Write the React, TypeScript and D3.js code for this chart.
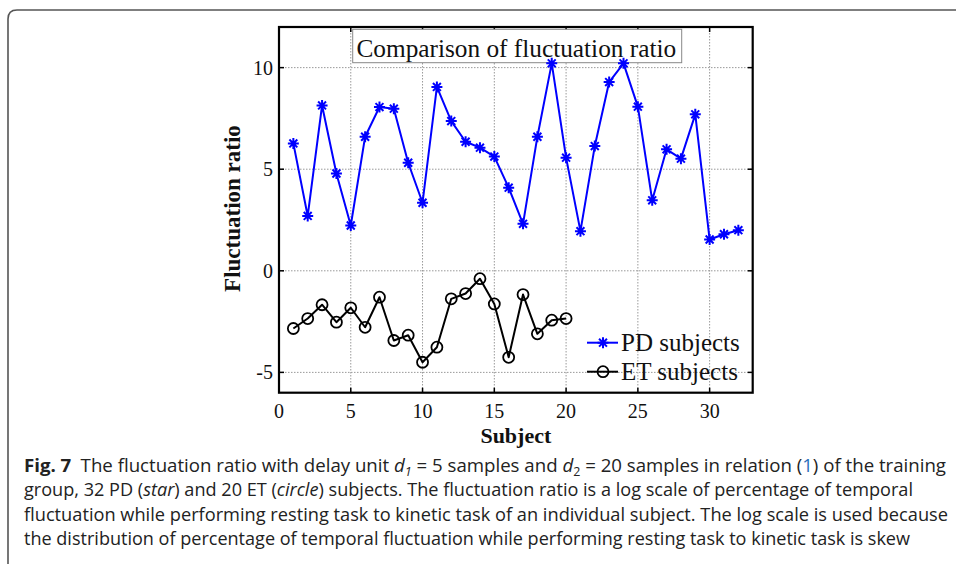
import React from "react";
import * as d3 from "d3";

const subjectsPD = d3.range(1, 33);
const valuesPD = [6.27, 2.7, 8.14, 4.79, 2.23, 6.6, 8.06, 7.98, 5.32, 3.35, 9.05, 7.37, 6.35, 6.06, 5.62, 4.09, 2.31, 6.6, 10.21, 5.57, 1.95, 6.14, 9.29, 10.21, 8.08, 3.47, 5.98, 5.52, 7.7, 1.54, 1.8, 2.0];
const subjectsET = d3.range(1, 21);
const valuesET = [-2.84, -2.35, -1.67, -2.53, -1.82, -2.78, -1.3, -3.43, -3.17, -4.5, -3.76, -1.38, -1.12, -0.39, -1.63, -4.26, -1.17, -3.1, -2.43, -2.35];
const xTicks = [0, 5, 10, 15, 20, 25, 30];
const yTicks = [-5, 0, 5, 10];
const seriesNames = ["PD subjects", "ET subjects"];
const chartTitle = "Comparison of fluctuation ratio";
const xLabel = "Subject";
const yLabel = "Fluctuation ratio";

const SERIF = "'Liberation Serif', 'Times New Roman', serif";
const SANS = "'Open Sans', 'Noto Sans', sans-serif";

const L = 279, R = 752.7, T = 27, B = 392.7;

function asterisk(s: number) {
  const k = s * 0.72;
  return `M${-s},0L${s},0M0,${-s}L0,${s}M${-k},${-k}L${k},${k}M${-k},${k}L${k},${-k}`;
}

export default function App() {
  const x = d3.scaleLinear().domain([0, 33]).range([L, R]);
  const y = d3.scaleLinear().domain([-6, 12]).range([B, T]);
  const pd = subjectsPD.map((s, i) => [s, valuesPD[i]] as [number, number]);
  const et = subjectsET.map((s, i) => [s, valuesET[i]] as [number, number]);
  const line = d3.line<[number, number]>().x((d) => x(d[0])).y((d) => y(d[1]));
  const tickLen = 5;
  const blue = "#0000ff";

  return (
    <svg width={956} height={564} style={{ position: "absolute", left: 0, top: 0 }} xmlns="http://www.w3.org/2000/svg">
      <rect x={0} y={0} width={956} height={564} fill="#fff" />
      {/* outer frame */}
      <path d="M8,564L8,19Q8,10,17,10L956,10" fill="none" stroke="#555" strokeWidth={1.6} />

      {/* grid */}
      {xTicks.filter((t) => t > 0).map((t) => (
        <line key={"gx" + t} x1={x(t)} x2={x(t)} y1={T} y2={B} stroke="#999" strokeWidth={1} strokeDasharray="1.5,1.5" />
      ))}
      {yTicks.map((t) => (
        <line key={"gy" + t} x1={L} x2={R} y1={y(t)} y2={y(t)} stroke="#999" strokeWidth={1} strokeDasharray="1.5,1.5" />
      ))}

      {/* ticks */}
      {xTicks.map((t) => (
        <g key={"tx" + t}>
          <line x1={x(t)} x2={x(t)} y1={B} y2={B - tickLen} stroke="#000" strokeWidth={1.5} />
          <line x1={x(t)} x2={x(t)} y1={T} y2={T + tickLen} stroke="#000" strokeWidth={1.5} />
          <text x={x(t)} y={418} textAnchor="middle" fontFamily={SERIF} fontSize={20} fill="#111">{t}</text>
        </g>
      ))}
      {yTicks.map((t) => (
        <g key={"ty" + t}>
          <line x1={L} x2={L + tickLen} y1={y(t)} y2={y(t)} stroke="#000" strokeWidth={1.5} />
          <line x1={R} x2={R - tickLen} y1={y(t)} y2={y(t)} stroke="#000" strokeWidth={1.5} />
          <text x={273} y={y(t) + 7} textAnchor="end" fontFamily={SERIF} fontSize={20} fill="#111">{t}</text>
        </g>
      ))}

      {/* title */}
      <rect x={352.7} y={29.3} width={329} height={33.4} fill="#fff" stroke="#888" strokeWidth={1} />
      <text x={516.3} y={56.5} textAnchor="middle" fontFamily={SERIF} fontSize={25.3} fill="#111">{chartTitle}</text>

      {/* series */}
      <path d={line(pd) || ""} fill="none" stroke={blue} strokeWidth={2} strokeLinejoin="round" />
      {pd.map((d, i) => (
        <path key={"pm" + i} d={asterisk(5.5)} transform={`translate(${x(d[0])},${y(d[1])})`} stroke={blue} strokeWidth={2} fill="none" />
      ))}
      <path d={line(et) || ""} fill="none" stroke="#000" strokeWidth={2} strokeLinejoin="round" />
      {et.map((d, i) => (
        <circle key={"em" + i} cx={x(d[0])} cy={y(d[1])} r={5.5} stroke="#000" strokeWidth={1.8} fill="none" />
      ))}

      {/* axes box */}
      <rect x={L} y={T} width={R - L} height={B - T} fill="none" stroke="#000" strokeWidth={2.2} />

      {/* legend */}
      <line x1={587} x2={618} y1={342.7} y2={342.7} stroke={blue} strokeWidth={2} />
      <path d={asterisk(5.5)} transform="translate(603,342.7)" stroke={blue} strokeWidth={2} fill="none" />
      <text x={621} y={350.5} fontFamily={SERIF} fontSize={25} fill="#111">{seriesNames[0]}</text>
      <line x1={587} x2={618} y1={371.7} y2={371.7} stroke="#000" strokeWidth={2} />
      <circle cx={603} cy={371.7} r={5.5} stroke="#000" strokeWidth={1.8} fill="none" />
      <text x={621} y={379.5} fontFamily={SERIF} fontSize={25} fill="#111">{seriesNames[1]}</text>

      {/* axis labels */}
      <text x={(L + R) / 2} y={443} textAnchor="middle" fontFamily={SERIF} fontSize={22} fontWeight="bold" fill="#111">{xLabel}</text>
      <text transform={`translate(240,${208.5}) rotate(-90)`} textAnchor="middle" fontFamily={SERIF} fontSize={23} fontWeight="bold" fill="#111">{yLabel}</text>

      {/* caption */}
      <g fontFamily={SANS} fontSize={18} fill="#222">
        <text x={24} y={472} textLength={922} lengthAdjust="spacingAndGlyphs">
          <tspan fontWeight="bold">Fig. 7</tspan>
          <tspan>{"\u2002The fluctuation ratio with delay unit "}</tspan>
          <tspan fontStyle="italic">d</tspan>
          <tspan fontSize={12} dy={4} fontStyle="italic">1</tspan>
          <tspan dy={-4}>{" = 5 samples and "}</tspan>
          <tspan fontStyle="italic">d</tspan>
          <tspan fontSize={12} dy={4}>2</tspan>
          <tspan dy={-4}>{" = 20 samples in relation ("}</tspan>
          <tspan fill="#2a6ebb">1</tspan>
          <tspan>{") of the training"}</tspan>
        </text>
        <text x={24} y={496} textLength={889} lengthAdjust="spacingAndGlyphs">
          <tspan>{"group, 32 PD ("}</tspan>
          <tspan fontStyle="italic">star</tspan>
          <tspan>{") and 20 ET ("}</tspan>
          <tspan fontStyle="italic">circle</tspan>
          <tspan>{") subjects. The fluctuation ratio is a log scale of percentage of temporal"}</tspan>
        </text>
        <text x={24} y={520.5} textLength={924} lengthAdjust="spacingAndGlyphs">
          fluctuation while performing resting task to kinetic task of an individual subject. The log scale is used because
        </text>
        <text x={24} y={545} textLength={886} lengthAdjust="spacingAndGlyphs">
          the distribution of percentage of temporal fluctuation while performing resting task to kinetic task is skew
        </text>
      </g>
    </svg>
  );
}
